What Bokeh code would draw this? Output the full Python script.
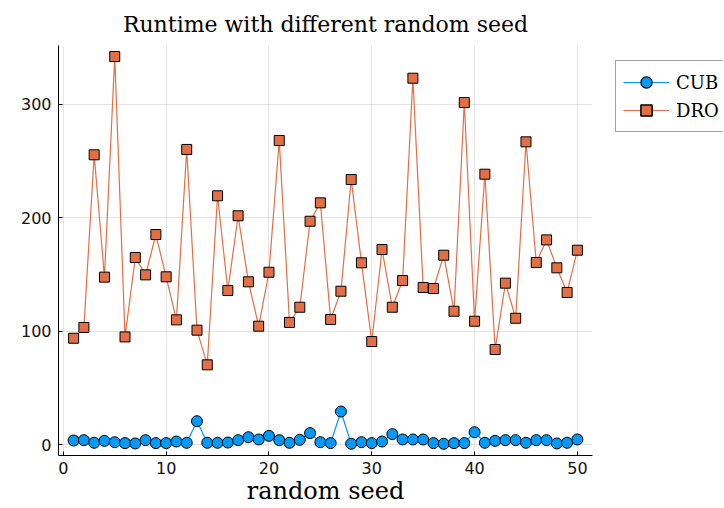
from bokeh.plotting import figure
from bokeh.models import Legend, LegendItem, Range1d, FixedTicker
from bokeh.layouts import row
from bokeh.embed import file_html
from bokeh.resources import INLINE

seeds = list(range(1, 51))
cub = [3.8, 4.1, 1.8, 3.5, 2.3, 1.5, 1.2, 4.1, 1.5, 1.5,
       2.9, 1.8, 20.8, 1.8, 1.8, 2.0, 4.1, 6.7, 4.7, 7.9,
       4.1, 1.8, 4.4, 10.3, 2.3, 1.5, 29.3, 0.9, 2.3, 1.5,
       2.9, 9.4, 4.7, 4.7, 4.7, 1.5, 0.9, 1.5, 1.5, 11.1,
       1.8, 3.5, 4.1, 4.1, 1.8, 4.1, 4.1, 1.2, 1.8, 4.7]
dro = [93.8, 103.3, 255.3, 147.6, 341.8, 95.0, 164.9, 149.6, 185.1, 147.9,
       110.0, 260.0, 100.9, 70.4, 219.2, 135.8, 201.6, 143.5, 104.4, 151.9,
       267.9, 107.7, 121.1, 196.8, 213.0, 110.3, 135.2, 233.5, 160.2, 90.9,
       171.9, 121.1, 144.6, 322.7, 138.5, 137.6, 166.9, 117.6, 301.3, 108.8,
       238.2, 83.9, 142.3, 111.4, 266.7, 160.5, 180.4, 155.8, 134.1, 171.3]
series_names = ["CUB", "DRO"]
x_ticks = [0, 10, 20, 30, 40, 50]
y_ticks = [0, 100, 200, 300]

SERIF = "DejaVu Serif"
BLUE = "#009AFA"
ORANGE = "#E26F46"

H = 508
W1 = 600
W2 = 123

p = figure(width=W1, height=H, output_backend="svg", toolbar_location=None,
           x_range=Range1d(-0.47, 51.47), y_range=Range1d(-9.4, 351.5),
           min_border_left=58, min_border_right=W1 - 592, min_border_top=45,
           min_border_bottom=H - 455, title="Runtime with different random seed")
p.outline_line_color = None

p.title.text_font = SERIF
p.title.text_font_size = "22px"
p.title.text_font_style = "normal"
p.title.align = "center"
p.title.text_color = "black"
p.title.standoff = 17

for ax in (p.xaxis[0], p.yaxis[0]):
    ax.major_tick_in = 4
    ax.major_tick_out = 0
    ax.minor_tick_in = 0
    ax.minor_tick_out = 0
    ax.axis_line_color = "black"
    ax.major_tick_line_color = "black"
    ax.major_label_text_font = "DejaVu Sans"
    ax.major_label_text_font_size = "16px"
    ax.major_label_text_color = "#111111"

p.xaxis[0].ticker = FixedTicker(ticks=x_ticks)
p.yaxis[0].ticker = FixedTicker(ticks=y_ticks)
p.xaxis[0].major_label_standoff = 6
p.yaxis[0].major_label_standoff = 7
p.xaxis[0].axis_label = "random seed"
p.xaxis[0].axis_label_text_font = SERIF
p.xaxis[0].axis_label_text_font_size = "24px"
p.xaxis[0].axis_label_text_font_style = "normal"
p.xaxis[0].axis_label_text_color = "black"
p.xaxis[0].axis_label_standoff = 0

p.xgrid[0].ticker = FixedTicker(ticks=x_ticks)
p.ygrid[0].ticker = FixedTicker(ticks=y_ticks)
p.grid.grid_line_color = "black"
p.grid.grid_line_alpha = 0.1
p.grid.grid_line_width = 1

p.line(seeds, cub, line_color=BLUE, line_width=1.2)
p.scatter(seeds, cub, marker="circle", size=11, fill_color=BLUE,
          line_color="black", line_width=1)
p.line(seeds, dro, line_color=ORANGE, line_width=1.2)
p.scatter(seeds, dro, marker="square", size=10, fill_color=ORANGE,
          line_color="black", line_width=1)

# legend panel: a separate figure whose proxy renderers lie outside its view,
# so the legend can sit to the right of the data frame
p2 = figure(width=W2, height=H, output_backend="svg", toolbar_location=None,
            x_axis_type=None, y_axis_type=None,
            x_range=Range1d(-200, -199), y_range=Range1d(-2000, -1999),
            min_border_left=0, min_border_right=0, min_border_top=41,
            min_border_bottom=0)
p2.outline_line_color = None
p2.grid.visible = False
ll1 = p2.line(seeds, cub, line_color=BLUE, line_width=1.2)
ls1 = p2.scatter(seeds, cub, marker="circle", fill_color=BLUE,
                 line_color="black", line_width=1.2)
ll2 = p2.line(seeds, dro, line_color=ORANGE, line_width=1.2)
ls2 = p2.scatter(seeds, dro, marker="square", fill_color=ORANGE,
                 line_color="black", line_width=1.5)

legend = Legend(items=[LegendItem(label=series_names[0], renderers=[ll1, ls1]),
                       LegendItem(label=series_names[1], renderers=[ll2, ls2])],
                location="top_left")
legend.label_text_font = SERIF
legend.label_text_font_size = "18px"
legend.label_text_color = "black"
legend.glyph_width = 46
legend.glyph_height = 28
legend.spacing = 0
legend.padding = 7
legend.margin = 15
legend.label_standoff = 7
legend.border_line_color = "#444444"
legend.border_line_width = 1
legend.background_fill_color = "white"
legend.background_fill_alpha = 1.0
p2.add_layout(legend, "center")

layout = row(p, p2, spacing=0)
open("out.html", "w").write(file_html(layout, INLINE))
